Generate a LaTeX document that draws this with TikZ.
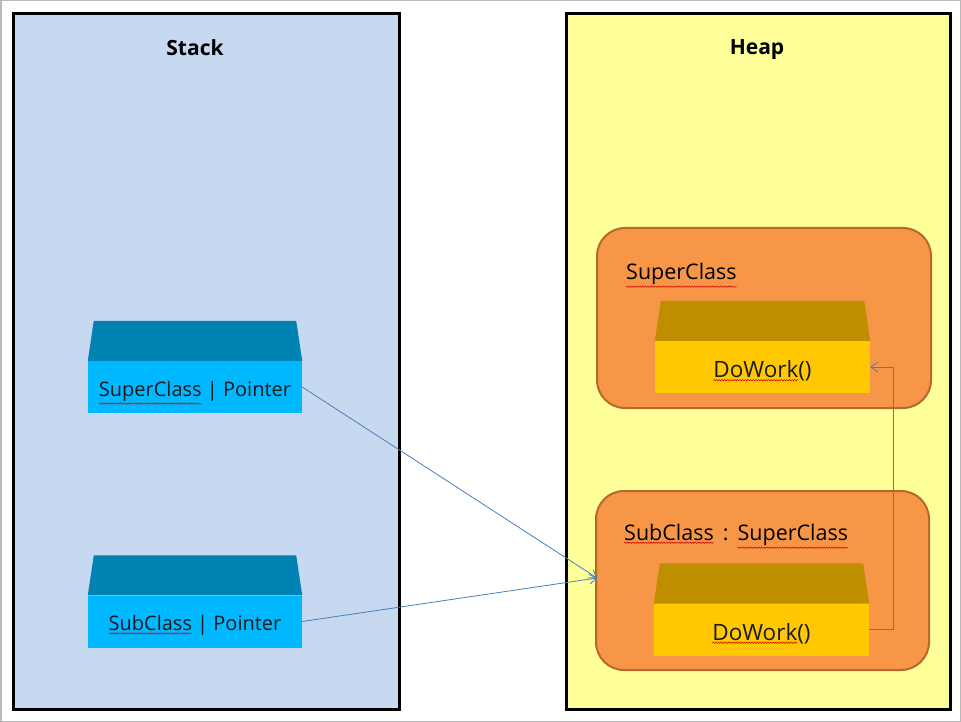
\documentclass[tikz,border=0pt]{standalone}
\usepackage{fontspec}
\setmainfont{Open Sans}
\usetikzlibrary{arrows.meta,decorations.pathmorphing}

\definecolor{stackbg}{HTML}{C6D9F1}
\definecolor{heapbg}{HTML}{FFFF99}
\definecolor{ptrfill}{HTML}{00B8FF}
\definecolor{ptrtopfill}{HTML}{0083B2}
\definecolor{objfill}{HTML}{F79646}
\definecolor{objedge}{HTML}{B5692E}
\definecolor{workfill}{HTML}{FFC800}
\definecolor{worktopfill}{HTML}{BF8F00}
\definecolor{linkblue}{HTML}{4A7EBB}
\definecolor{textdark}{HTML}{1A1A1A}

% spell-check mark under a word
\newcommand{\spellword}[1]{\tikz[baseline=(sw.base)]{\node[inner sep=0pt, outer sep=0pt,
    minimum width=0pt, minimum height=0pt, text height=, text depth=, anchor=center, fill=none, draw=none] (sw) {#1};
  \draw[overlay, red!85!black, line width=0.5pt, decorate, decoration={snake,amplitude=0.7pt,segment length=2.6pt}]
    ([yshift=-2.5pt]sw.south west) -- ([yshift=-2.5pt]sw.south east);}}

% slanted top face of a box
\newcommand{\boxtop}[2]{%
  \fill[#2] (#1.north west) -- ([xshift=6pt,yshift=40pt]#1.north west)
    -- ([xshift=-6pt,yshift=40pt]#1.north east) -- (#1.north east) -- cycle;}

\tikzset{
  panel/.style={draw=black, line width=3pt},
  title/.style={anchor=base, font=\fontsize{21}{24}\selectfont\bfseries, text=black},
  ptrbox/.style={fill=ptrfill, minimum width=214pt, minimum height=52pt, inner sep=0pt,
    text height=18.5pt, text depth=0pt, font=\fontsize{20}{24}\selectfont, text=textdark},
  objbox/.style={fill=objfill, draw=objedge, line width=2pt, rounded corners=28pt},
  objlabel/.style={anchor=base west, inner sep=0pt, font=\fontsize{21.5}{25}\selectfont, text=black},
  workbox/.style={fill=workfill, minimum width=215pt, minimum height=52pt, inner sep=0pt,
    text height=21pt, text depth=0pt, font=\fontsize{22.5}{26}\selectfont, text=textdark},
  link/.style={draw=linkblue, line width=0.8pt, -{Straight Barb[length=7pt,width=10pt]}}
}

\begin{document}
\begin{tikzpicture}[x=1pt,y=-1pt]
  \useasboundingbox (0,0) rectangle (961,722);
  \draw[gray!55, line width=1.5pt] (0.75,0.75) rectangle (960.25,721.25);

  % --- panels ---
  \draw[panel, fill=stackbg] (13.5,13.5) rectangle (399,709);
  \draw[panel, fill=heapbg] (566,13.5) rectangle (950,709);
  \node[title] (stacktitle) at (195,56) {Stack};
  \node[title] (heaptitle) at (757,55) {Heap};

  % --- pointers on the stack ---
  \node[ptrbox] (supptr) at (195,387) {\spellword{SuperClass} | Pointer};
  \boxtop{supptr}{ptrtopfill}
  \node[ptrbox] (subptr) at (195,621.5) {\spellword{SubClass} | Pointer};
  \boxtop{subptr}{ptrtopfill}

  % --- objects on the heap ---
  \draw[objbox] (597,228) rectangle (931,408);
  \node[objlabel] (suplabel) at (626,279) {\spellword{SuperClass}};
  \node[workbox] (supwork) at (762.5,367) {\spellword{DoWork}()};
  \boxtop{supwork}{worktopfill}

  \draw[objbox] (596,491) rectangle (929,670);
  \coordinate (subobj) at (597,578);
  \node[objlabel] (sublabel) at (624,540) {\spellword{SubClass}\hspace{9pt}:\hspace{9pt}\spellword{SuperClass}};
  \node[workbox] (subwork) at (761.5,629.5) {\spellword{DoWork}()};
  \boxtop{subwork}{worktopfill}

  % --- references ---
  \draw[link] (supptr.east) -- (subobj);
  \draw[link] (subptr.east) -- (subobj);
  \draw[link] (subwork.east) -- ++(24,0) |- (supwork.east);
\end{tikzpicture}
\end{document}
